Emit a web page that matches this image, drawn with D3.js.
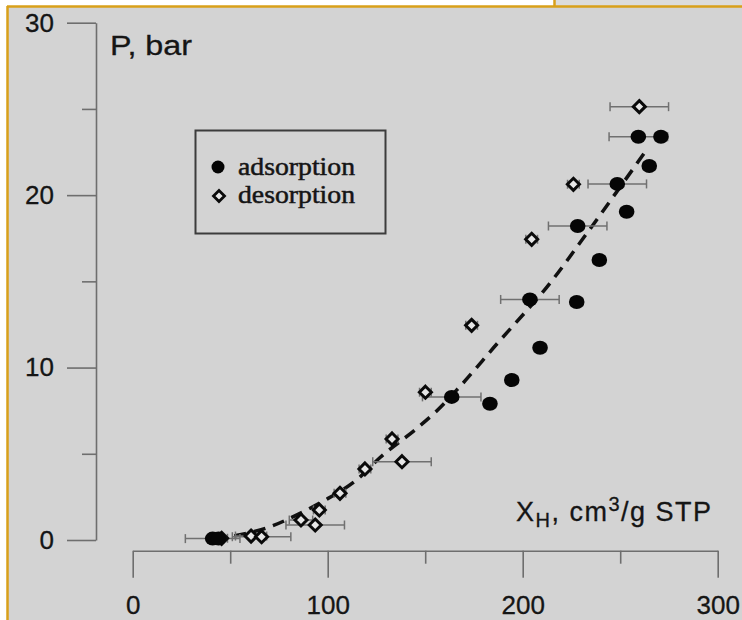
<!DOCTYPE html>
<html>
<head>
<meta charset="utf-8">
<script src="https://cdn.jsdelivr.net/npm/d3@7"></script>
<style>
  html, body { margin: 0; padding: 0; background: #fff; }
  svg { display: block; }
</style>
</head>
<body>
<div class="canvas"></div>
<script>
// adsorption points (filled circles)
var adsX   = [41, 44, 163.6, 183.2, 194.4, 208.9, 203.7, 227.7, 239.3, 228.2, 253.3, 248.5, 264.9, 259.3, 270.9];
var adsP   = [0.08, 0.08, 8.3, 7.9, 9.28, 11.15, 13.95, 13.8, 16.24, 18.21, 19.04, 20.65, 21.69, 23.39, 23.39];
var adsErr = [14, 3, 15, 3, 3, 3, 15, 3, 3, 15, 3, 15, 3, 15, 3];

// desorption points (open diamonds)
var desX   = [45.6, 60.7, 66.1, 86.3, 93.6, 95.7, 106.3, 119.1, 138.1, 133, 150.1, 173.8, 204.6, 226, 259.8];
var desP   = [0.1, 0.23, 0.19, 1.16, 0.87, 1.74, 2.71, 4.12, 4.54, 5.86, 8.57, 12.45, 17.44, 20.63, 25.13];
var desErr = [3, 8, 15, 6, 15, 3, 3, 3, 15, 3, 3, 3, 3, 3, 15];

// dashed fit line
var fitX = [42, 55, 70, 85, 100, 115, 127, 146, 156, 167, 187, 202, 209, 233, 247, 264];
var fitP = [0.05, 0.3, 0.75, 1.5, 2.4, 3.5, 4.8, 6.5, 7.5, 8.8, 11.4, 13.3, 14.2, 17.8, 20.0, 22.7];

var xMajor = [0, 100, 200, 300];
var xMinor = [50, 150, 250];
var yMajor = [0, 10, 20, 30];
var yMinor = [5, 15, 25];

var legendLabels = ["adsorption", "desorption"];

var width = 742, height = 620;
var sansFont = "'Liberation Sans', Arial, sans-serif";

var svg = d3.select(".canvas")
    .append("svg")
    .attr("width", width)
    .attr("height", height);

// page frame
svg.append("rect").attr("x", 0).attr("y", 0).attr("width", width).attr("height", height).attr("fill", "#fff");
svg.append("rect").attr("x", 555).attr("y", 0).attr("width", 187).attr("height", 6).attr("fill", "#dcdcdc");
svg.append("rect").attr("x", 7).attr("y", 6).attr("width", width - 7).attr("height", height - 6).attr("fill", "#d3d3d3");
svg.append("line").attr("x1", 7).attr("x2", width).attr("y1", 6.5).attr("y2", 6.5)
    .attr("stroke", "#d9a01a").attr("stroke-width", 2.5);
svg.append("line").attr("x1", 7.5).attr("x2", 7.5).attr("y1", 6).attr("y2", height)
    .attr("stroke", "#d9a01a").attr("stroke-width", 2.5);
svg.append("line").attr("x1", 554.5).attr("x2", 554.5).attr("y1", 0).attr("y2", 7)
    .attr("stroke", "#d9a01a").attr("stroke-width", 2.5);

var x = d3.scaleLinear().domain([0, 300]).range([132.7, 717.7]);
var y = d3.scaleLinear().domain([0, 30]).range([540, 22.7]);

var axisColor = "#6e6e6e";
var textColor = "#151515";

// y axis
var yAxisG = svg.append("g").attr("transform", "translate(96,0)");
yAxisG.call(d3.axisLeft(y).tickValues(yMajor).tickSize(29).tickSizeOuter(0).tickPadding(13));
yAxisG.append("g").call(d3.axisLeft(y).tickValues(yMinor).tickSize(14).tickSizeOuter(0).tickFormat(""))
    .select(".domain").remove();

// x axis
var xAxisG = svg.append("g").attr("transform", "translate(0,550.7)");
xAxisG.call(d3.axisBottom(x).tickValues(xMajor).tickSize(27).tickSizeOuter(0).tickPadding(18));
xAxisG.append("g").call(d3.axisBottom(x).tickValues(xMinor).tickSize(13).tickSizeOuter(0).tickFormat(""))
    .select(".domain").remove();

svg.selectAll(".domain, .tick line")
    .attr("stroke", axisColor)
    .attr("stroke-width", 1.6);
svg.selectAll(".tick text")
    .attr("fill", textColor)
    .attr("stroke", textColor)
    .attr("stroke-width", 0.3)
    .style("font-family", sansFont)
    .style("font-size", "26px");

// axis titles
svg.append("text")
    .attr("x", 110).attr("y", 55)
    .attr("fill", textColor)
    .attr("stroke", textColor)
    .attr("stroke-width", 0.3)
    .attr("textLength", 82)
    .attr("lengthAdjust", "spacingAndGlyphs")
    .style("font-family", sansFont)
    .style("font-size", "27px")
    .text("P, bar");

var xTitle = svg.append("text")
    .attr("x", 516).attr("y", 521)
    .attr("fill", textColor)
    .attr("stroke", textColor)
    .attr("stroke-width", 0.3)
    .style("font-family", sansFont)
    .style("font-size", "27px")
    .style("letter-spacing", "1.5px");
xTitle.append("tspan").text("X");
xTitle.append("tspan").attr("dy", 6).style("font-size", "20px").text("H");
xTitle.append("tspan").attr("dy", -6).text(", cm");
xTitle.append("tspan").attr("dy", -10).style("font-size", "20px").text("3");
xTitle.append("tspan").attr("dy", 10).text("/g STP");

// fitted curve
var fitData = fitX.map(function(d, i){ return [d, fitP[i]]; });
svg.append("path")
    .datum(fitData)
    .attr("fill", "none")
    .attr("stroke", "#111")
    .attr("stroke-width", 3.5)
    .attr("stroke-dasharray", "12,8")
    .attr("d", d3.line()
        .x(function(d){ return x(d[0]); })
        .y(function(d){ return y(d[1]); })
        .curve(d3.curveMonotoneX));

// error bars
var adsData = adsX.map(function(d, i){ return {x: d, p: adsP[i], e: adsErr[i]}; });
var desData = desX.map(function(d, i){ return {x: d, p: desP[i], e: desErr[i]}; });

var drawErrors = function(data){
    var g = svg.append("g")
        .attr("stroke", "#707070")
        .attr("stroke-width", 1.5);
    data.forEach(function(d){
        var cy = y(d.p);
        g.append("line").attr("x1", x(d.x - d.e)).attr("x2", x(d.x + d.e)).attr("y1", cy).attr("y2", cy);
        g.append("line").attr("x1", x(d.x - d.e)).attr("x2", x(d.x - d.e)).attr("y1", cy - 4.5).attr("y2", cy + 4.5);
        g.append("line").attr("x1", x(d.x + d.e)).attr("x2", x(d.x + d.e)).attr("y1", cy - 4.5).attr("y2", cy + 4.5);
    });
};
drawErrors(desData);
drawErrors(adsData);

var diamond = function(cx, cy, r){
    return "M" + cx + "," + (cy - r) + "L" + (cx + r) + "," + cy + "L" + cx + "," + (cy + r) + "L" + (cx - r) + "," + cy + "Z";
};

svg.append("g").selectAll("path")
    .data(desData)
    .enter()
    .append("path")
    .attr("d", function(d){ return diamond(x(d.x), y(d.p), 6); })
    .attr("fill", "#e6e6e6")
    .attr("stroke", "#0a0a0a")
    .attr("stroke-width", 3);

svg.append("g").selectAll("ellipse")
    .data(adsData)
    .enter()
    .append("ellipse")
    .attr("cx", function(d){ return x(d.x); })
    .attr("cy", function(d){ return y(d.p); })
    .attr("rx", 7.8)
    .attr("ry", 7)
    .attr("fill", "#050505");

// legend
var legend = svg.append("g");
legend.append("rect")
    .attr("x", 195.5).attr("y", 130.5).attr("width", 190).attr("height", 103)
    .attr("fill", "none")
    .attr("stroke", "#3c3c3c")
    .attr("stroke-width", 2);
legend.append("circle").attr("cx", 218).attr("cy", 167).attr("r", 6.5).attr("fill", "#050505");
legend.append("path").attr("d", diamond(219, 196, 5.5))
    .attr("fill", "#e6e6e6").attr("stroke", "#0a0a0a").attr("stroke-width", 2.8);
legend.selectAll("text")
    .data(legendLabels)
    .enter()
    .append("text")
    .attr("x", 238)
    .attr("y", function(d, i){ return 175 + i * 28; })
    .attr("fill", textColor)
    .attr("stroke", textColor)
    .attr("stroke-width", 0.5)
    .attr("textLength", 117)
    .attr("lengthAdjust", "spacingAndGlyphs")
    .style("font-family", "'Liberation Serif', 'Times New Roman', serif")
    .style("font-size", "25px")
    .text(function(d){ return d; });
</script>
</body>
</html>
